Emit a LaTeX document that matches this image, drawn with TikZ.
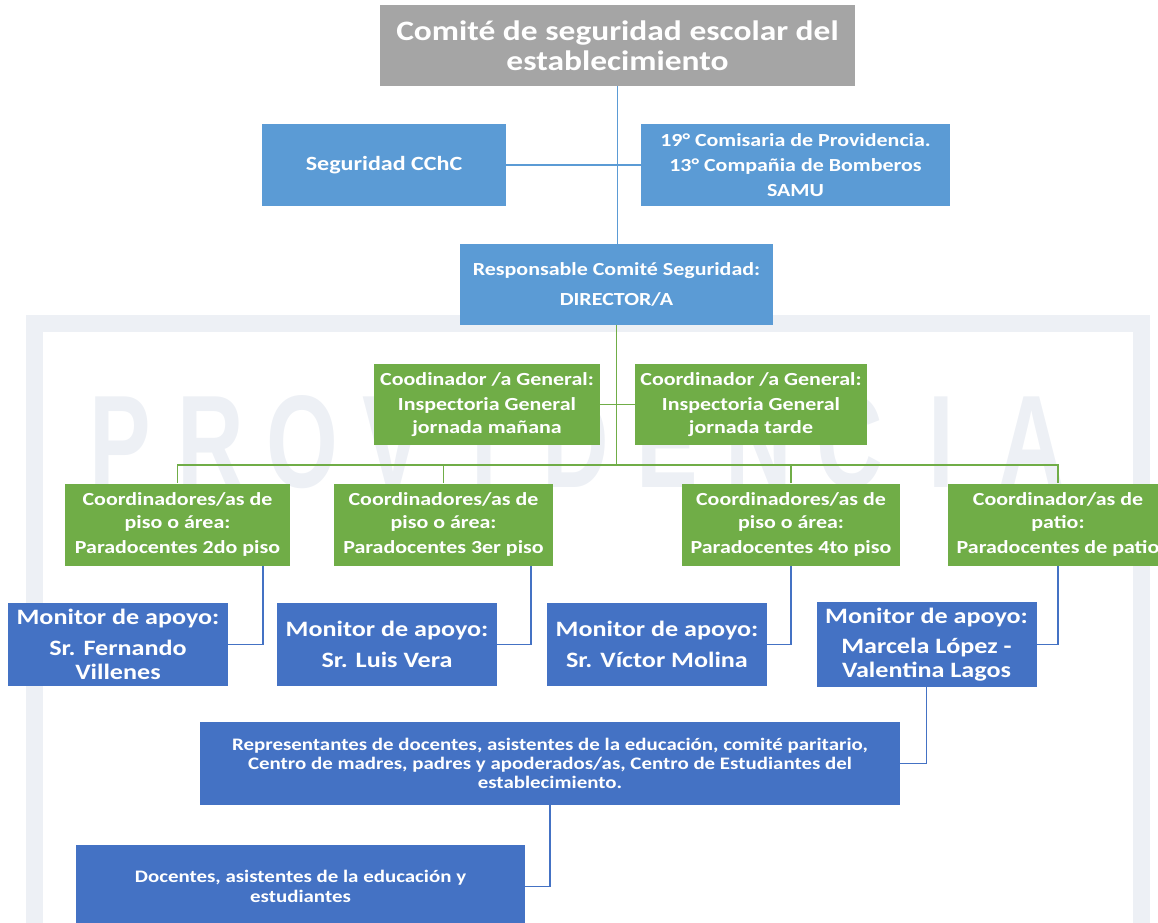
\documentclass[tikz,border=0pt]{standalone}
\usepackage{fontspec}
\setmainfont{Carlito}[FakeStretch=1.19]
\newfontfamily\wmfont{Liberation Sans}
\usepackage{xcolor}
\usetikzlibrary{positioning,calc}

\definecolor{boxgray}{HTML}{A5A5A5}
\definecolor{boxblue}{HTML}{5B9BD5}
\definecolor{boxgreen}{HTML}{70AD47}
\definecolor{boxdark}{HTML}{4472C4}
\definecolor{wmark}{HTML}{EDF0F5}

\begin{document}
\begin{tikzpicture}[
    orgbox/.style={
        rectangle, text=white,
        align=center,
        inner sep=3pt
    },
    titlebox/.style={
        orgbox, fill=boxgray,
        minimum width=9.5cm,
        minimum height=1.62cm,
        font=\bfseries\fontsize{16}{17}\selectfont
    },
    bluebox/.style={
        orgbox, fill=boxblue,
        minimum height=1.64cm,
        font=\bfseries\fontsize{10.5}{14}\selectfont
    },
    greenbox/.style={
        orgbox, fill=boxgreen,
        minimum height=1.64cm,
        font=\bfseries\fontsize{10.5}{13.2}\selectfont
    },
    monbox/.style={
        orgbox, fill=boxdark,
        minimum width=4.4cm,
        minimum height=1.66cm,
        font=\bfseries\fontsize{12.5}{13.5}\selectfont
    },
    darkbox/.style={
        orgbox, fill=boxdark,
        minimum height=1.66cm,
        font=\bfseries\fontsize{10}{11}\selectfont
    },
    blueline/.style={draw=boxblue, line width=1.1pt},
    greenline/.style={draw=boxgreen, line width=1.1pt},
    darkline/.style={draw=boxdark, line width=1pt},
    wmletter/.style={text=wmark, font=\wmfont\bfseries\fontsize{75}{75}\selectfont, xscale=0.7},
]

\useasboundingbox (0,0) rectangle (23.16,-18.44);

% watermark behind the chart
\draw[wmark, line width=0.34cm] (0.68,-6.46) rectangle (22.82,-19.2);
\foreach \ch [count=\i from 0] in {P,R,O,V,I,D,E,N,C,I,A}
    \node[wmletter] (wm\i) at ({2.4+1.824*\i},-8.84) {\ch};

\node[titlebox] (title) at (12.35,-0.91) {Comité de seguridad escolar del\\establecimiento};

\node[bluebox, minimum width=4.88cm, font=\bfseries\fontsize{11.5}{14}\selectfont] (cchc) at (7.68,-3.3) {Seguridad CChC};
\node[bluebox, minimum width=6.18cm] (ext) at (15.91,-3.3) {19° Comisaria de Providencia.\\13° Compañia de Bomberos\\SAMU};
\node[bluebox, minimum width=6.26cm, minimum height=1.62cm] (resp) at (12.33,-5.69) {Responsable Comité Seguridad:\\[3pt]DIRECTOR/A};

\node[greenbox, minimum width=4.52cm, minimum height=1.62cm] (genm) at (9.74,-8.09) {Coodinador /a General:\\[1pt]Inspectoria General\\jornada mañana};
\node[greenbox, minimum width=4.44cm, minimum height=1.62cm] (gent) at (15.02,-8.09) {Coordinador /a General:\\[1pt]Inspectoria General\\jornada tarde};

\node[greenbox, minimum width=4.5cm]  (p2)  at (3.55,-10.49)  {Coordinadores/as de\\piso o área:\\[1pt]Paradocentes 2do piso};
\node[greenbox, minimum width=4.38cm] (p3)  at (8.87,-10.49)  {Coordinadores/as de\\piso o área:\\[1pt]Paradocentes 3er piso};
\node[greenbox, minimum width=4.36cm] (p4)  at (15.82,-10.49) {Coordinadores/as de\\piso o área:\\[1pt]Paradocentes 4to piso};
\node[greenbox, minimum width=4.4cm]  (pat) at (21.16,-10.49) {Coordinador/as de\\patio:\\[1pt]Paradocentes de patio};

\node[monbox] (m1) at (2.36,-12.89)  {Monitor de apoyo:\\[4pt]Sr. Fernando\\Villenes};
\node[monbox] (m2) at (7.74,-12.89)  {Monitor de apoyo:\\[4pt]Sr. Luis Vera};
\node[monbox] (m3) at (13.14,-12.89) {Monitor de apoyo:\\[4pt]Sr. Víctor Molina};
\node[monbox] (m4) at (18.53,-12.89) {Monitor de apoyo:\\[4pt]Marcela López -\\Valentina Lagos};

\node[darkbox, minimum width=14cm] (rep) at (11,-15.27) {Representantes de docentes, asistentes de la educación, comité paritario,\\Centro de madres, padres y apoderados/as, Centro de Estudiantes del\\establecimiento.};
\node[darkbox, minimum width=8.98cm] (doc) at (6.01,-17.73) {Docentes, asistentes de la educación y\\estudiantes};

% top part
\draw[blueline] (title.south) -- (title.south |- resp.north);
\draw[blueline] (cchc.east) -- (ext.west);

% green bus
\coordinate (bus) at (resp.south |- 0,-9.3);
\draw[greenline] (resp.south) -- (bus);
\draw[greenline] (genm.east) -- (gent.west);
\draw[greenline] (p2.north) |- (bus) -| (pat.north);
\draw[greenline] (p3.north) -- (p3.north |- bus);
\draw[greenline] (p4.north) -- (p4.north |- bus);

% monitors
\draw[darkline] ($(p2.south east)+(-0.54,0)$) |- (m1.east);
\draw[darkline] ($(p3.south east)+(-0.44,0)$) |- (m2.east);
\draw[darkline] (p4.south) |- (m3.east);
\draw[darkline] (pat.south) |- (m4.east);

\draw[darkline] (m4.south) |- (rep.east);
\draw[darkline] (rep.south) |- (doc.east);

\end{tikzpicture}
\end{document}
